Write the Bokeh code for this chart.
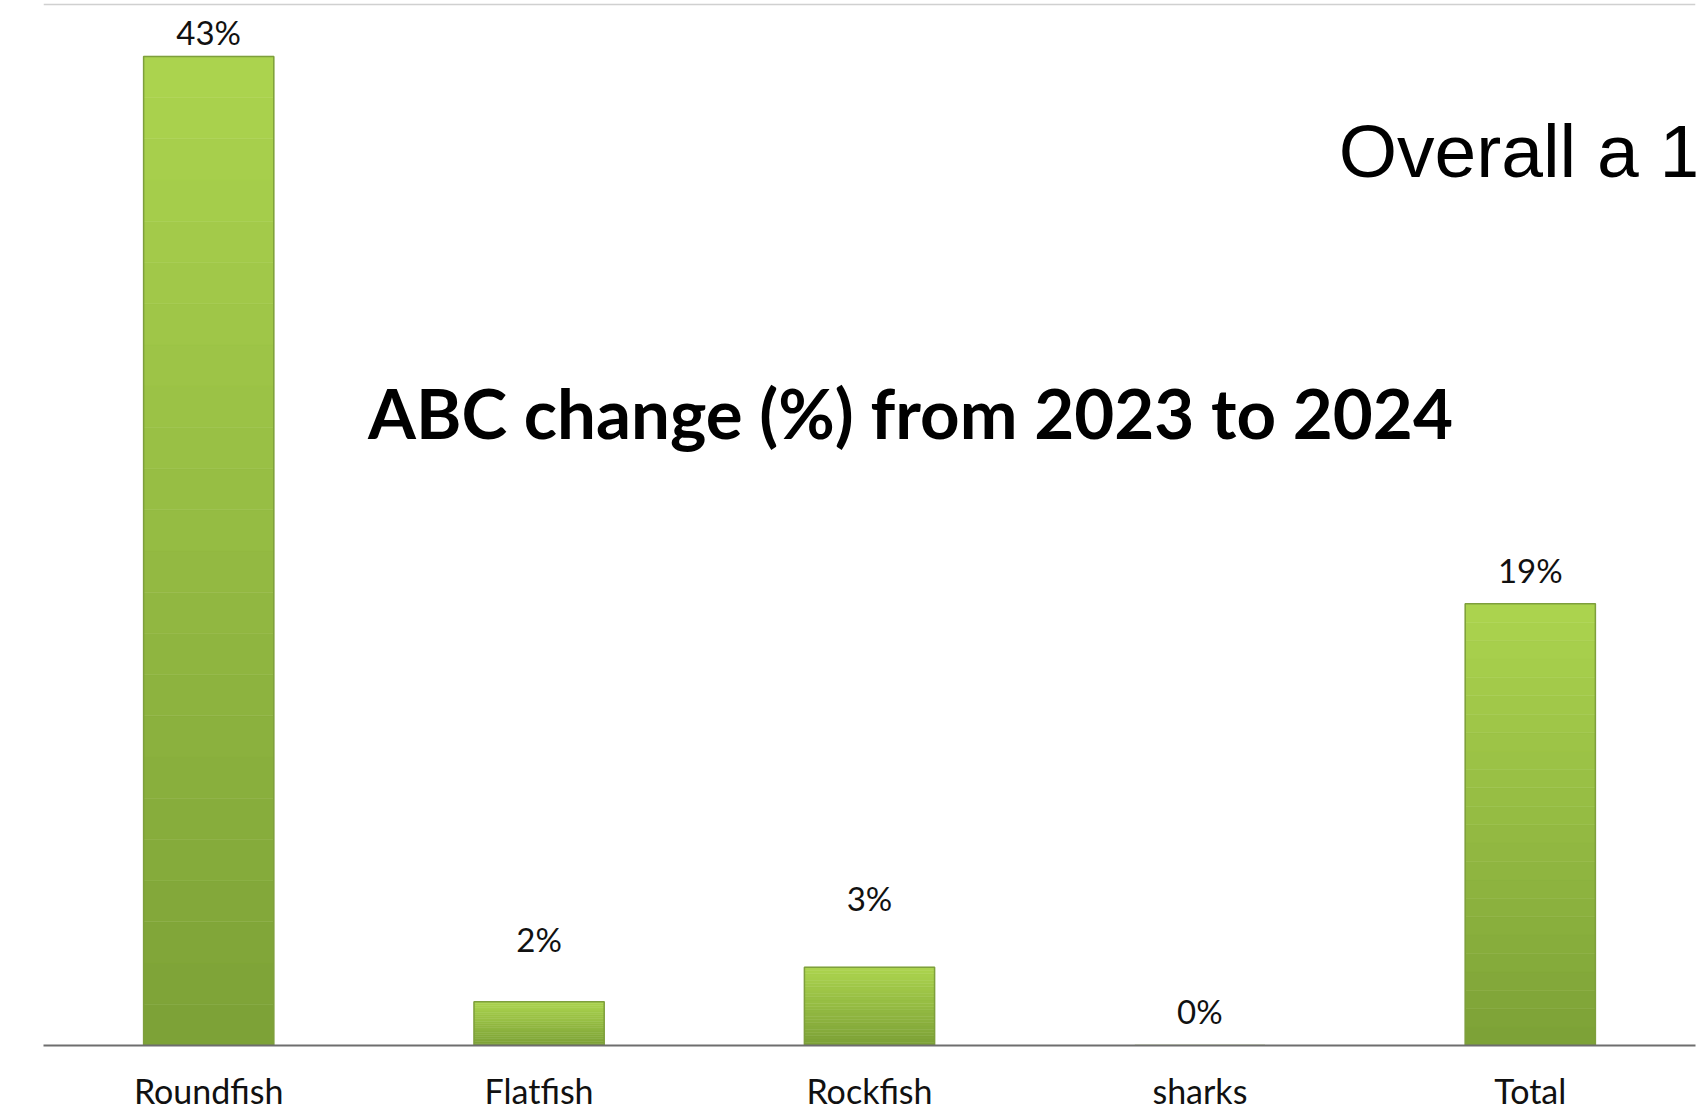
from bokeh.plotting import figure
from bokeh.models import Range1d, Label, ColumnDataSource, Span
from bokeh.embed import file_html
from bokeh.resources import INLINE

# ---- data ----
categories = ["Roundfish", "Flatfish", "Rockfish", "sharks", "Total"]
abc_change = [43.0, 1.9, 3.4, 0.0, 19.2]
value_labels = ["43%", "2%", "3%", "0%", "19%"]
title_text = "ABC change (%) from 2023 to 2024"
side_text = "Overall a 1"

# ---- styles ----
label_gap_px = [24, 63, 69, 35, 34]   # label centre above bar top, pixels
top_color = (172, 212, 78)
bottom_color = (124, 161, 55)
n_slices = 24

W, H = 1700, 1113
p = figure(x_range=categories, y_range=Range1d(0, 45.43), width=W, height=H,
           output_backend="svg", toolbar_location=None,
           min_border_left=43, min_border_right=5, min_border_top=0, min_border_bottom=68)
p.outline_line_color = None
p.background_fill_color = "white"
p.border_fill_color = "white"
p.xgrid.visible = False
p.ygrid.visible = False
p.yaxis.visible = False

def mix(a, b, t):
    return "#%02x%02x%02x" % tuple(int(round(a[k] + (b[k] - a[k]) * t)) for k in range(3))

# gradient bars: slices relative to each bar's own height
for i in range(n_slices):
    f0 = i / n_slices
    f1 = (i + 1) / n_slices
    src = ColumnDataSource(dict(
        x=categories,
        bottom=[v * f0 for v in abc_change],
        top=[v * f1 for v in abc_change],
    ))
    col = mix(bottom_color, top_color, (f0 + f1) / 2)
    p.vbar(x="x", bottom="bottom", top="top", width=0.394, source=src,
           fill_color=col, line_color=col, line_width=0.5)

# bar outline
src_o = ColumnDataSource(dict(x=categories, top=abc_change))
p.vbar(x="x", top="top", bottom=0, width=0.394, source=src_o,
       fill_color=None, line_color="#7e9f3c", line_width=1.5)

# value labels
for idx, (v, lab, gap) in enumerate(zip(abc_change, value_labels, label_gap_px)):
    p.add_layout(Label(x=idx + 0.5, y=v, text=lab, y_offset=gap,
                       text_align="center", text_baseline="middle",
                       text_font="Lato", text_font_size="33px", text_color="#111111"))

# x axis
ax = p.xaxis[0]
ax.axis_line_color = "#6e6e6e"
ax.axis_line_width = 2
ax.major_tick_line_color = None
ax.minor_tick_line_color = None
ax.major_label_text_font = "Lato"
ax.major_label_text_font_size = "34px"
ax.major_label_text_color = "#111111"
ax.major_label_standoff = 18

# title inside plot
p.add_layout(Label(x=2.624, y=27.52, text=title_text, text_align="center",
                   text_baseline="middle", text_font="Lato", text_font_style="bold",
                   text_font_size="69px", text_color="#000000"))

# side text (partly outside in the original)
p.add_layout(Label(x=3.92, y=38.9, text=side_text, text_align="left",
                   text_baseline="alphabetic", text_font="Liberation Sans",
                   text_font_size="75px", text_color="#000000"))

# faint chart-box border (left and top), frame-relative screen units
p.add_layout(Span(location=-33, location_units="screen", dimension="height",
                  line_color="#c4c4c4", line_width=2))
p.add_layout(Span(location=1041, location_units="screen", dimension="width",
                  line_color="#d0d0d0", line_width=1.5))

open("out.html", "w").write(file_html(p, INLINE))
